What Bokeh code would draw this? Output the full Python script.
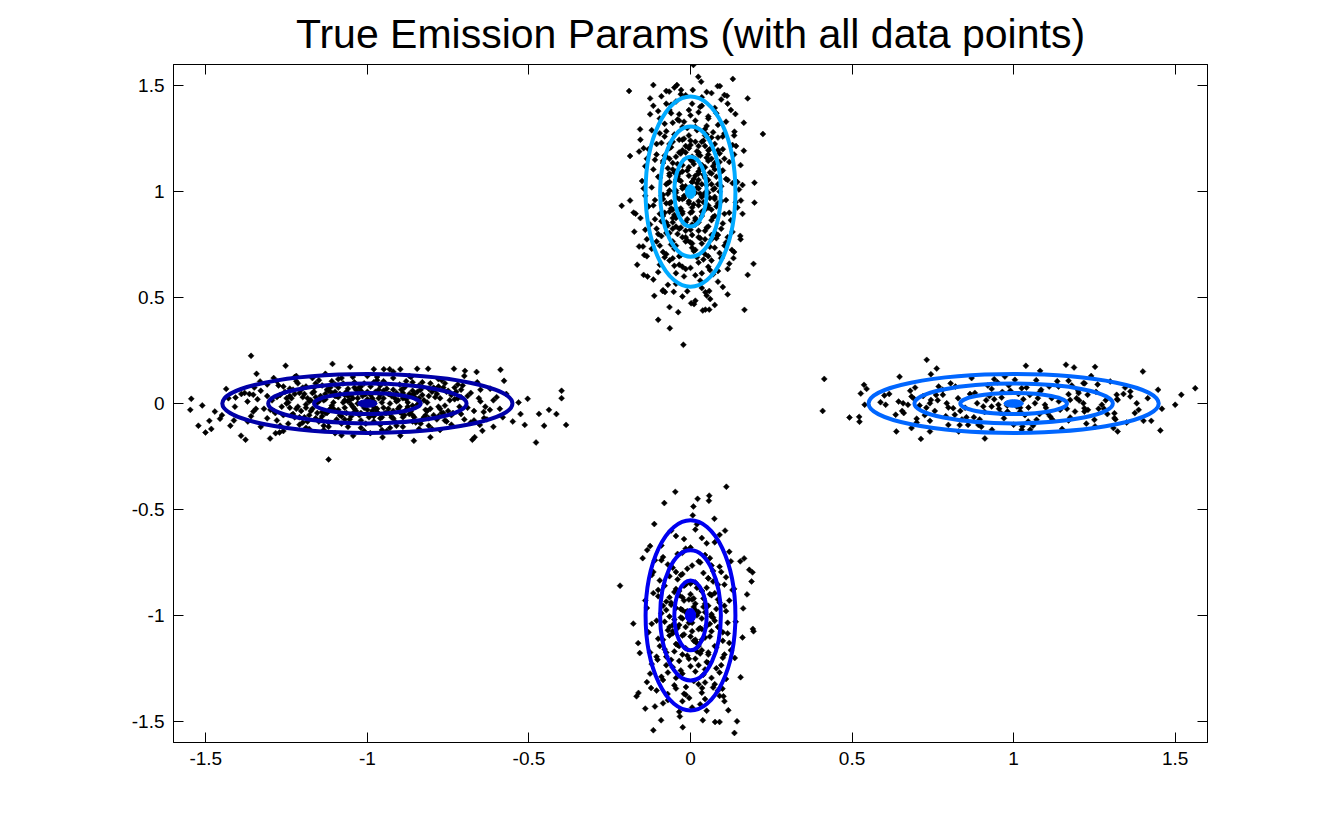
import math
from bokeh.plotting import figure
from bokeh.models import LinearAxis, FixedTicker, Title, ColumnDataSource
from bokeh.embed import file_html
from bokeh.resources import INLINE

title_text = "True Emission Params (with all data points)"
tick_values = [-1.5, -1.0, -0.5, 0.0, 0.5, 1.0, 1.5]
tick_labels = ["-1.5", "-1", "-0.5", "0", "0.5", "1", "1.5"]

# emission means and colours of the four states
state_cx = [-1.0, 0.0, 1.0, 0.0]
state_cy = [0.0, -1.0, 0.0, 1.0]
state_colors = ["#0000A8", "#0000F0", "#0066FF", "#00AAFF"]
state_horizontal = [True, False, True, False]
# contour half-axes (long, short) in data units
contour_long = [0.165, 0.307, 0.449]
contour_short = [0.050, 0.094, 0.139]
center_long = [0.030, 0.033]
center_short = [0.018, 0.016]

pts_west = [
    (-1.36, 0.225), (-1.253, 0.178), (-1.108, 0.187), (-1.053, 0.173), (-1.343, 0.14),
    (-1.545, 0.022), (-1.548, -0.03), (-1.511, -0.009), (-1.523, -0.105), (-1.501, -0.137),
    (-1.483, -0.12), (-1.489, -0.082), (-1.472, -0.038), (-1.456, -0.072), (-1.424, -0.105),
    (-1.391, -0.152), (-1.377, -0.171), (-1.301, -0.165), (-1.12, -0.264), (-0.478, -0.184),
    (-0.385, -0.101), (-0.399, 0.06), (-0.399, 0.025), (-0.438, -0.03), (-0.469, -0.049),
    (-0.415, -0.05), (-0.453, -0.105), (-0.504, 0.022), (-0.532, 0.005), (-0.526, -0.05),
    (-0.513, -0.101), (-0.588, 0.159), (-0.577, 0.107), (-0.662, 0.149), (-0.698, 0.154),
    (-0.732, 0.164), (-0.812, 0.164), (-0.846, 0.164), (-0.898, 0.162), (-0.931, 0.162),
    (-0.949, 0.162), (-0.98, 0.162), (-0.675, -0.171), (-0.668, -0.159), (-0.805, -0.159),
    (-0.856, -0.176), (-0.898, -0.152), (-0.953, -0.159), (-0.991, -0.14), (-1.044, -0.152),
    (-1.272, -0.137), (-1.284, -0.14), (-0.581, -0.065), (-0.621, -0.03), (-0.639, -0.069),
    (-0.644, -0.129), (-0.652, -0.101), (-1.413, -0.08), (-1.437, 0.069), (-1.408, 0.028),
    (-1.371, 0.009), (-1.353, 0.041), (-1.332, 0.104), (-1.353, -0.038),
    (-1.38, 0.05), (-1.36, -0.06), (-1.34, 0.02), (-1.33, -0.11), (-1.31, 0.09), (-1.30, -0.03),
    (-1.29, 0.12), (-1.28, -0.08), (-1.27, 0.04), (-1.26, -0.13), (-1.25, 0.00), (-1.24, 0.07),
    (-1.23, -0.05), (-1.22, 0.13), (-1.21, -0.10), (-1.20, 0.03), (-1.19, -0.02), (-1.19, 0.08),
    (-1.18, -0.12), (-1.17, 0.05), (-1.16, -0.07), (-1.15, 0.11), (-1.15, 0.01), (-1.14, -0.04),
    (-1.13, 0.14), (-1.12, -0.09), (-1.12, 0.06), (-1.11, -0.01), (-1.10, 0.09), (-1.10, -0.14),
    (-1.09, 0.03), (-1.08, -0.06), (-1.08, 0.12), (-1.07, -0.02), (-1.06, 0.07), (-1.06, -0.11),
    (-1.05, 0.04), (-1.04, -0.04), (-1.04, 0.10), (-1.03, 0.00), (-1.02, -0.08), (-1.02, 0.06),
    (-1.01, -0.13), (-1.00, 0.02), (-1.00, -0.03), (-1.00, 0.13), (-0.99, 0.08), (-0.98, -0.06),
    (-0.98, 0.01), (-0.97, 0.11), (-0.96, -0.10), (-0.96, 0.04), (-0.95, -0.02), (-0.94, 0.07),
    (-0.94, -0.13), (-0.93, 0.00), (-0.92, 0.12), (-0.92, -0.07), (-0.91, 0.05), (-0.90, -0.04),
    (-0.90, 0.09), (-0.89, -0.11), (-0.88, 0.02), (-0.87, -0.05), (-0.87, 0.13), (-0.86, 0.06),
    (-0.85, -0.09), (-0.84, 0.00), (-0.83, 0.10), (-0.82, -0.03), (-0.81, 0.07), (-0.80, -0.12),
    (-0.79, 0.03), (-0.78, -0.06), (-0.77, 0.11), (-0.76, -0.01), (-0.75, 0.06), (-0.74, -0.10),
    (-0.73, 0.02), (-0.72, 0.09), (-0.71, -0.05), (-0.70, 0.13), (-0.69, -0.02), (-0.68, 0.05),
    (-0.67, -0.08), (-0.66, 0.10), (-0.65, 0.01), (-0.64, -0.04), (-0.62, 0.07), (-0.61, -0.11),
    (-0.60, 0.03), (-1.16, 0.03), (-1.14, -0.06), (-1.13, 0.02), (-1.11, 0.05), (-1.09, -0.03),
    (-1.07, 0.04), (-1.05, -0.06), (-1.03, 0.05), (-1.01, -0.02), (-0.99, 0.04), (-0.97, -0.04),
    (-0.95, 0.06), (-0.93, -0.05), (-0.91, 0.01), (-0.89, 0.05), (-0.88, -0.03), (-0.86, -0.01),
    (-1.18, 0.01), (-1.21, 0.05), (-1.24, -0.02), (-0.83, 0.04), (-0.81, -0.07), (-0.78, 0.08),
    (-1.26, 0.08), (-1.31, -0.07), (-0.74, 0.04), (-0.71, 0.03), (-1.06, 0.01), (-0.96, -0.07),
    (-1.02, 0.08), (-0.98, 0.10), (-1.12, -0.11), (-0.84, -0.12), (-1.28, 0.03), (-1.33, 0.06),
    (-0.76, -0.08), (-0.68, -0.09), (-1.20, -0.09), (-1.17, 0.12), (-0.92, 0.15), (-1.08, -0.15),
    (-0.86, 0.10),
]
pts_west_core = [
    (-1.295, 0.015), (-1.285, -0.045), (-1.275, 0.085), (-1.265, -0.015), (-1.255, 0.055),
    (-1.245, -0.095), (-1.235, 0.025), (-1.225, -0.065), (-1.215, 0.095), (-1.205, -0.035),
    (-1.195, 0.045), (-1.185, -0.085), (-1.175, 0.015), (-1.165, 0.075), (-1.155, -0.045),
    (-1.145, 0.035), (-1.135, -0.105), (-1.125, 0.065), (-1.115, -0.025), (-1.105, 0.005),
    (-1.095, -0.075), (-1.085, 0.045), (-1.075, 0.095), (-1.065, -0.045), (-1.055, 0.015),
    (-1.045, -0.015), (-1.035, 0.065), (-1.025, -0.055), (-1.015, 0.035), (-1.005, -0.095),
    (-0.995, 0.005), (-0.985, -0.035), (-0.975, 0.055), (-0.965, 0.025), (-0.955, -0.065),
    (-0.945, 0.095), (-0.935, -0.025), (-0.925, 0.035), (-0.915, -0.085), (-0.905, 0.015),
    (-0.895, -0.045), (-0.885, 0.075), (-0.875, -0.015), (-0.865, 0.035), (-0.855, -0.065),
    (-0.845, 0.055), (-0.835, -0.095), (-0.825, 0.015), (-0.815, -0.035), (-0.805, 0.095),
    (-0.795, -0.055), (-0.785, 0.045), (-0.775, -0.025), (-0.765, 0.075), (-0.755, -0.085),
    (-0.745, 0.015), (-0.735, -0.045), (-0.725, 0.055), (-0.715, -0.015), (-0.705, 0.085),
    (-1.31, 0.035), (-1.32, -0.025), (-1.35, 0.075), (-1.37, -0.085), (-1.39, 0.045),
    (-1.41, -0.015), (-1.43, 0.025), (-1.45, -0.055), (-0.69, 0.035), (-0.67, -0.035),
    (-0.65, 0.065), (-0.63, -0.075), (-0.61, 0.015), (-0.59, -0.025), (-0.57, 0.045),
    (-0.55, -0.085), (-1.07, 0.015), (-1.04, -0.025), (-1.01, 0.045), (-0.98, -0.015),
    (-0.95, 0.025), (-0.92, -0.035), (-1.10, 0.035), (-1.13, -0.045), (-0.89, 0.025),
    (-0.86, -0.055), (-1.02, -0.115), (-0.97, 0.125), (-1.09, 0.115), (-0.93, -0.115),
    (-1.16, 0.095), (-0.84, 0.085), (-1.19, -0.115), (-0.81, -0.105), (-1.22, 0.105),
    (-0.78, 0.115),
    (-1.28, 0.105), (-1.26, -0.055), (-1.24, 0.035), (-1.22, -0.025), (-1.20, 0.075),
    (-1.18, -0.055), (-1.16, 0.005), (-1.14, 0.085), (-1.12, -0.035), (-1.10, 0.055),
    (-1.08, -0.095), (-1.06, 0.035), (-1.04, 0.075), (-1.02, -0.045), (-1.00, 0.055),
    (-0.98, -0.085), (-0.96, 0.085), (-0.94, -0.045), (-0.92, 0.065), (-0.90, -0.015),
    (-0.88, 0.105), (-0.86, -0.085), (-0.84, 0.025), (-0.82, -0.055), (-0.80, 0.055),
    (-0.78, -0.015), (-0.76, 0.095), (-0.74, -0.055), (-0.72, 0.025), (-0.70, -0.075),
    (-1.27, -0.105), (-1.23, 0.065), (-1.19, -0.005), (-1.15, -0.085), (-1.11, 0.105),
    (-1.07, -0.075), (-1.03, 0.025), (-0.99, -0.055), (-0.95, 0.105), (-0.91, -0.105),
    (-0.87, 0.045), (-0.83, -0.075), (-0.79, 0.065), (-0.75, -0.035), (-0.71, 0.065),
    (-1.17, -0.025), (-1.13, 0.045), (-1.09, 0.075), (-1.05, -0.005), (-1.01, 0.095),
    (-0.97, -0.025), (-0.93, 0.045), (-0.89, -0.065), (-0.85, 0.025), (-0.81, 0.035),
    (-1.21, -0.065), (-1.25, 0.025), (-1.29, -0.035), (-0.77, -0.045), (-0.73, 0.075),
    (-1.045, 0.125), (-0.955, -0.125), (-1.135, -0.125), (-0.865, 0.125), (-1.225, 0.125),
    (-0.775, -0.125), (-1.345, -0.025), (-0.655, 0.025), (-1.365, 0.045), (-0.635, -0.015),
    (-1.245, 0.005), (-1.235, -0.055), (-1.225, 0.045), (-1.215, -0.015), (-1.205, 0.065),
    (-1.195, -0.065), (-1.185, 0.025), (-1.175, -0.035), (-1.165, 0.055), (-1.155, 0.005),
    (-1.145, -0.075), (-1.135, 0.015), (-1.125, -0.045), (-1.115, 0.075), (-1.105, -0.025),
    (-1.095, 0.035), (-1.085, -0.055), (-1.075, 0.005), (-1.065, 0.055), (-1.055, -0.075),
    (-1.045, 0.025), (-1.035, -0.035), (-1.025, 0.075), (-1.015, -0.005), (-1.005, 0.045),
    (-0.995, -0.065), (-0.985, 0.025), (-0.975, -0.025), (-0.965, 0.065), (-0.955, 0.005),
    (-0.945, -0.045), (-0.935, 0.045), (-0.925, -0.065), (-0.915, 0.025), (-0.905, -0.025),
    (-0.895, 0.065), (-0.885, -0.055), (-0.875, 0.005), (-0.865, -0.035), (-0.855, 0.045),
    (-0.845, -0.005), (-0.835, 0.065), (-0.825, -0.065), (-0.815, 0.005), (-0.805, -0.025),
    (-0.795, 0.075), (-0.785, -0.075), (-0.775, 0.025), (-0.765, -0.045), (-0.755, 0.055),
]

pts_east = [
    (0.414, 0.116), (0.409, -0.035), (0.492, -0.066), (0.522, -0.063), (0.523, -0.086),
    (0.527, 0.047), (0.537, 0.088), (0.545, 0.069), (0.539, -0.006), (0.588, 0.006),
    (0.604, -0.006), (0.60, 0.038), (0.635, -0.053), (0.647, 0.126), (0.731, 0.206),
    (0.744, 0.138), (0.762, 0.165), (0.713, -0.167), (0.741, -0.132), (0.741, -0.082),
    (0.70, -0.072), (0.644, 0.009), (0.658, 0.001), (0.673, -0.006), (0.684, 0.033),
    (0.692, 0.022), (0.709, -0.009), (0.756, -0.035), (0.768, 0.08), (0.781, 0.041),
    (0.793, 0.001), (0.798, -0.019), (0.813, -0.022), (0.828, 0.025), (0.818, -0.053),
    (0.833, -0.102), (0.854, -0.065), (0.877, -0.065), (0.887, 0.001), (0.906, -0.014),
    (0.932, 0.069), (0.933, -0.124), (0.953, -0.006), (0.963, 0.028), (0.973, 0.127),
    (0.981, -0.038), (1.004, 0.112), (1.02, -0.038), (1.025, 0.072), (1.027, -0.108),
    (1.038, 0.178), (1.046, -0.019), (1.051, -0.124), (1.066, 0.001), (1.071, -0.077),
    (1.082, 0.154), (1.082, 0.057), (1.097, -0.006), (1.113, -0.061), (1.118, 0.025),
    (1.139, 0.08), (1.144, -0.03), (1.162, 0.183), (1.17, 0.107), (1.17, 0.044),
    (1.175, 0.017), (1.175, -0.066), (1.187, 0.17), (1.19, -0.038), (1.201, 0.049),
    (1.203, 0.014), (1.216, 0.096), (1.216, 0.001), (1.219, -0.022), (1.219, -0.038),
    (1.229, 0.041), (1.252, 0.173), (1.25, -0.077), (1.263, -0.025), (1.273, -0.006),
    (1.299, 0.104), (1.309, -0.116), (1.322, -0.132), (1.312, -0.046), (1.312, -0.069),
    (1.319, 0.041), (1.322, 0.017), (1.361, 0.057), (1.361, 0.033), (1.381, 0.001),
    (1.387, -0.03), (1.40, 0.151), (1.402, -0.082), (1.426, -0.082), (1.447, 0.065),
    (1.454, -0.127), (1.459, -0.025), (1.50, -0.006), (1.519, 0.041), (1.562, 0.072),
    (0.798, -0.101), (0.741, 0.001), (0.744, 0.017), (0.932, -0.014), (1.01, -0.014),
    (0.891, -0.101), (0.859, -0.101), (0.637, -0.132), (0.684, -0.116), (0.83, -0.132),
    (0.911, -0.165), (1.025, -0.124), (1.252, -0.108),
    (0.88, 0.05), (0.91, -0.04), (0.94, 0.02), (0.97, -0.07), (0.99, 0.06), (1.02, -0.02),
    (1.05, 0.04), (1.08, -0.05), (1.11, 0.08), (1.14, 0.01), (1.17, -0.08), (1.20, 0.06),
    (1.23, -0.03), (0.85, -0.02), (0.82, 0.08), (0.79, -0.06), (0.76, 0.04), (0.73, -0.02),
    (1.26, 0.09), (1.29, -0.05), (1.32, 0.02), (0.95, 0.10), (1.00, -0.10), (1.07, 0.11),
    (0.90, -0.11), (1.15, -0.12), (1.03, 0.02), (0.98, -0.01), (1.10, -0.02), (0.87, 0.12),
    (1.35, -0.09), (0.68, 0.06), (0.70, -0.09), (1.24, 0.13),
]
pts_east_core = [
    (0.615, 0.045), (0.655, -0.035), (0.695, 0.075), (0.725, -0.055), (0.765, 0.015),
    (0.805, 0.095), (0.835, -0.035), (0.865, 0.045), (0.895, -0.075), (0.925, 0.035),
    (0.955, -0.025), (0.985, 0.085), (1.015, 0.045), (1.045, -0.085), (1.075, 0.025),
    (1.105, -0.045), (1.135, 0.105), (1.165, -0.025), (1.195, 0.025), (1.225, -0.095),
    (1.255, 0.055), (1.285, 0.015), (1.315, -0.075), (1.345, 0.075), (1.375, -0.045),
    (1.415, 0.025), (0.965, 0.055), (1.035, -0.055), (0.915, 0.015), (1.085, 0.065),
    (0.78, 0.065), (0.84, -0.075), (0.92, 0.085), (0.96, -0.045), (1.04, 0.075),
    (1.12, -0.075), (1.18, 0.085), (1.28, -0.025), (1.34, 0.045), (0.72, 0.035),
    (0.66, -0.045), (1.06, -0.105), (0.94, 0.115), (1.22, 0.095),
]

pts_north = [
    (0.009, 1.598), (0.024, 1.542), (0.033, 1.519), (0.131, 1.532), (-0.19, 1.475),
    (-0.115, 1.503), (-0.05, 1.491), (-0.042, 1.503), (-0.066, 1.472), (-0.029, 1.48),
    (0.007, 1.48), (0.084, 1.498), (0.091, 1.498), (0.105, 1.456), (0.113, 1.452),
    (0.177, 1.44), (-0.125, 1.44), (0.224, 1.272), (-0.156, 1.294), (-0.187, 1.168),
    (-0.159, 1.189), (-0.213, 0.933), (-0.187, 0.958), (-0.176, 0.901), (-0.17, 0.896),
    (-0.174, 0.811), (-0.159, 0.741), (-0.147, 0.741), (-0.143, 0.701), (-0.145, 0.607),
    (-0.133, 0.599), (-0.112, 0.508), (-0.10, 0.395), (-0.064, 0.355), (-0.022, 0.277),
    (-0.038, 0.431), (-0.086, 0.531), (-0.079, 0.526), (-0.052, 0.527), (0.002, 0.473),
    (0.011, 0.469), (0.038, 0.439), (0.046, 0.443), (0.058, 0.443), (0.061, 0.493),
    (0.046, 0.525), (0.058, 0.531), (0.167, 0.442), (0.177, 0.607), (0.195, 0.659),
    (0.154, 0.791), (0.161, 0.895), (0.198, 0.948), (0.198, 1.042), (0.161, 1.031),
    (0.156, 0.958), (0.165, 1.193), (0.141, 1.215), (0.139, 1.366), (0.136, 1.283),
    (0.097, 0.689), (0.133, 0.686), (0.128, 0.725),
    (-0.06, 1.41), (0.03, 1.40), (-0.10, 1.38), (0.08, 1.37), (0.00, 1.36), (-0.04, 1.34),
    (0.11, 1.33), (-0.08, 1.32), (0.05, 1.31), (-0.01, 1.30), (-0.12, 1.29), (0.02, 1.29),
    (0.07, 1.28), (-0.05, 1.27), (0.10, 1.26), (-0.02, 1.25), (0.04, 1.24), (-0.09, 1.23),
    (0.13, 1.22), (0.00, 1.22), (-0.06, 1.21), (0.06, 1.20), (-0.13, 1.20), (0.02, 1.19),
    (-0.03, 1.18), (0.09, 1.18), (-0.08, 1.17), (0.05, 1.16), (-0.11, 1.15), (0.00, 1.15),
    (0.12, 1.14), (-0.04, 1.13), (0.07, 1.12), (-0.07, 1.11), (0.03, 1.11), (-0.01, 1.10),
    (0.10, 1.10), (-0.14, 1.12), (-0.05, 1.09), (0.04, 1.08), (-0.10, 1.07), (0.08, 1.07),
    (0.01, 1.06), (-0.03, 1.05), (0.13, 1.04), (-0.07, 1.04), (0.05, 1.03), (-0.12, 1.02),
    (0.02, 1.02), (-0.01, 1.01), (0.09, 1.00), (-0.05, 1.00), (0.15, 1.01), (-0.15, 1.05),
    (0.03, 0.99), (-0.09, 0.98), (0.06, 0.97), (-0.02, 0.97), (0.11, 0.96), (-0.06, 0.95),
    (0.01, 0.94), (-0.13, 0.93), (0.08, 0.93), (-0.03, 0.92), (0.04, 0.91), (-0.08, 0.90),
    (0.12, 0.90), (0.00, 0.90), (-0.05, 0.89), (0.07, 0.88), (-0.11, 0.87), (0.02, 0.86),
    (0.10, 0.85), (-0.02, 0.85), (-0.07, 0.84), (0.05, 0.83), (-0.14, 0.82), (0.00, 0.82),
    (0.13, 0.81), (-0.04, 0.80), (0.08, 0.80), (-0.09, 0.79), (0.03, 0.78), (-0.01, 0.77),
    (0.11, 0.76), (-0.06, 0.75), (0.06, 0.74), (-0.12, 0.73), (0.01, 0.72), (0.09, 0.71),
    (-0.03, 0.70), (-0.08, 0.69), (0.04, 0.68), (0.12, 0.66), (-0.05, 0.65), (0.00, 0.64),
    (-0.10, 0.62), (0.07, 0.61), (-0.02, 0.60), (0.03, 0.58), (-0.07, 0.56), (0.10, 0.55),
    (-0.01, 0.53), (0.05, 0.51), (-0.03, 1.46), (0.05, 1.47), (-0.09, 1.45),
    (0.02, 1.04), (-0.02, 0.98), (0.04, 0.95), (-0.04, 1.07), (0.06, 1.09), (-0.06, 0.92),
    (0.01, 1.13), (-0.01, 0.87), (0.03, 1.17), (-0.03, 0.83), (0.07, 1.01), (-0.07, 0.99),
    (0.09, 1.14), (-0.09, 0.86), (0.00, 1.24), (0.00, 0.76), (0.05, 1.27), (-0.05, 0.73),
    (0.11, 1.06), (-0.11, 0.96), (0.08, 0.78), (-0.08, 1.26), (0.14, 0.95), (-0.14, 0.98),
    (0.02, 0.69), (-0.02, 1.33), (0.06, 0.63), (-0.06, 1.37), (0.10, 1.20), (-0.10, 0.80),
]
pts_north_core = [
    (0.015, 0.605), (-0.045, 0.615), (0.085, 0.625), (-0.015, 0.635), (0.055, 0.645),
    (-0.095, 0.655), (0.025, 0.665), (-0.065, 0.675), (0.095, 0.685), (-0.035, 0.695),
    (0.045, 0.705), (-0.085, 0.715), (0.015, 0.725), (0.075, 0.735), (-0.045, 0.745),
    (0.035, 0.755), (-0.105, 0.765), (0.065, 0.775), (-0.025, 0.785), (0.005, 0.795),
    (-0.075, 0.805), (0.045, 0.815), (0.095, 0.825), (-0.045, 0.835), (0.015, 0.845),
    (-0.015, 0.855), (0.065, 0.865), (-0.055, 0.875), (0.035, 0.885), (-0.095, 0.895),
    (0.005, 0.905), (-0.035, 0.915), (0.055, 0.925), (0.025, 0.935), (-0.065, 0.945),
    (0.095, 0.955), (-0.025, 0.965), (0.035, 0.975), (-0.085, 0.985), (0.015, 0.995),
    (-0.045, 1.005), (0.075, 1.015), (-0.015, 1.025), (0.035, 1.035), (-0.065, 1.045),
    (0.055, 1.055), (-0.095, 1.065), (0.015, 1.075), (-0.035, 1.085), (0.095, 1.095),
    (-0.055, 1.105), (0.045, 1.115), (-0.025, 1.125), (0.075, 1.135), (-0.085, 1.145),
    (0.015, 1.155), (-0.045, 1.165), (0.055, 1.175), (-0.015, 1.185), (0.085, 1.195),
    (-0.065, 1.205), (0.025, 1.215), (-0.105, 1.225), (0.035, 1.235), (-0.035, 1.245),
    (0.065, 1.255), (-0.005, 1.265), (0.105, 1.275), (-0.075, 1.285), (0.045, 1.295),
    (-0.025, 1.305), (0.085, 1.315), (-0.055, 1.325), (0.015, 1.335), (-0.095, 1.345),
    (0.055, 1.355), (-0.035, 1.365), (0.025, 1.375), (-0.065, 1.385), (0.075, 1.395),
    (0.005, 1.415), (-0.045, 1.425), (0.095, 1.435), (-0.115, 1.405), (0.035, 1.445),
    (-0.015, 1.455), (0.065, 1.465), (-0.075, 1.475), (0.115, 1.415), (0.125, 1.385),
    (-0.125, 1.365), (0.135, 1.175), (-0.135, 1.155), (0.125, 0.865), (-0.125, 0.845),
    (0.135, 0.715), (-0.135, 0.695), (0.115, 0.635), (-0.115, 0.585), (0.085, 0.575),
    (-0.045, 0.565), (0.035, 0.545), (-0.085, 0.535), (0.115, 0.515), (-0.025, 0.505),
    (0.015, 0.485), (0.075, 0.465), (-0.065, 0.455), (-0.155, 0.875), (0.155, 1.125),
    (-0.155, 1.245), (0.155, 0.775), (-0.165, 0.655), (0.165, 1.325), (0.045, 0.985),
    (-0.045, 0.995), (0.005, 1.045), (-0.005, 0.955), (0.025, 1.095), (-0.025, 0.905),
    (0.055, 1.145), (-0.055, 0.855), (0.065, 0.915), (-0.065, 1.085), (0.085, 1.035),
    (-0.085, 0.965),
    (0.035, 0.615), (-0.025, 0.645), (0.065, 0.675), (-0.075, 0.705), (0.005, 0.735),
    (-0.015, 0.765), (0.085, 0.795), (-0.055, 0.825), (0.025, 0.855), (-0.085, 0.885),
    (0.045, 0.915), (-0.005, 0.945), (0.075, 0.965), (-0.045, 0.975), (0.055, 0.995),
    (-0.025, 1.015), (0.095, 1.025), (-0.075, 1.035), (0.025, 1.055), (-0.005, 1.075),
    (0.065, 1.085), (-0.045, 1.095), (0.035, 1.125), (-0.085, 1.135), (0.005, 1.165),
    (-0.025, 1.195), (0.075, 1.225), (-0.055, 1.235), (0.045, 1.265), (-0.095, 1.275),
    (0.015, 1.305), (-0.035, 1.335), (0.055, 1.345), (-0.005, 1.385), (0.035, 1.405),
    (-0.075, 1.415), (0.085, 1.255), (-0.105, 1.175), (0.105, 1.155), (-0.115, 1.105),
    (0.115, 1.055), (-0.115, 0.935), (0.105, 0.895), (-0.105, 0.825), (0.115, 0.785),
    (-0.095, 0.745), (0.105, 0.745), (-0.055, 0.685), (0.055, 0.695), (-0.035, 0.655),
    (0.025, 0.785), (-0.015, 0.815), (0.015, 0.875), (-0.065, 0.905), (0.085, 0.945),
    (-0.035, 1.055), (0.045, 1.075), (-0.065, 1.155), (0.025, 1.185), (-0.015, 1.215),
    (0.145, 1.045), (-0.145, 1.015), (0.145, 0.925), (-0.145, 1.205), (0.135, 1.265),
    (-0.135, 0.775),
    (0.005, 0.755), (-0.055, 0.765), (0.045, 0.775), (-0.015, 0.785), (0.065, 0.795),
    (-0.065, 0.805), (0.025, 0.815), (-0.035, 0.825), (0.055, 0.835), (0.005, 0.845),
    (-0.075, 0.855), (0.015, 0.865), (-0.045, 0.875), (0.075, 0.885), (-0.025, 0.895),
    (0.035, 0.905), (-0.055, 0.915), (0.005, 0.925), (0.055, 0.935), (-0.075, 0.945),
    (0.025, 0.955), (-0.035, 0.965), (0.075, 0.975), (-0.005, 0.985), (0.045, 0.995),
    (-0.065, 1.005), (0.025, 1.015), (-0.025, 1.025), (0.065, 1.035), (0.005, 1.045),
    (-0.045, 1.055), (0.045, 1.065), (-0.065, 1.075), (0.025, 1.085), (-0.025, 1.095),
    (0.075, 1.105), (-0.005, 1.115), (0.035, 1.125), (-0.055, 1.135), (0.005, 1.145),
    (0.065, 1.155), (-0.075, 1.165), (0.025, 1.175), (-0.035, 1.185), (0.055, 1.195),
    (-0.005, 1.205), (0.045, 1.215), (-0.065, 1.225), (0.015, 1.235), (-0.025, 1.245),
]

pts_south = [
    (0.111, -0.393), (-0.047, -0.417), (0.022, -0.45), (0.058, -0.435), (0.057, -0.459),
    (-0.081, -0.47), (0.009, -0.486), (0.007, -0.528), (0.074, -0.544), (-0.112, -0.569),
    (0.107, -0.60), (-0.218, -0.86), (-0.177, -1.039), (-0.162, -1.131), (-0.157, -1.178),
    (-0.148, -0.73), (-0.134, -0.692), (-0.125, -0.673), (0.182, -0.785), (0.192, -0.797),
    (0.189, -0.84), (0.175, -0.901), (0.163, -0.967), (0.154, -0.745), (0.166, -0.731),
    (0.193, -1.064), (0.195, -1.075), (0.161, -1.104), (0.137, -1.201), (0.155, -1.292),
    (0.099, -1.346), (0.102, -1.382), (0.117, -1.448), (0.144, -1.50), (0.136, -1.555),
    (0.076, -1.503), (0.09, -1.503), (0.038, -1.495), (-0.024, -1.528), (-0.033, -1.477),
    (-0.091, -1.495), (-0.115, -1.542), (-0.14, -1.44), (-0.167, -1.382), (-0.161, -1.366),
    (-0.071, -1.371), (-0.004, -1.39), (0.036, -1.343), (0.045, -1.317), (-0.014, -1.338),
    (-0.122, -1.343), (-0.102, -1.209),
    (0.02, -0.57), (-0.06, -0.60), (0.09, -0.62), (-0.02, -0.64), (0.05, -0.66),
    (-0.09, -0.67), (0.00, -0.68), (0.12, -0.70), (-0.04, -0.71), (0.06, -0.73), (-0.11, -0.74),
    (0.03, -0.75), (-0.07, -0.76), (0.09, -0.77), (-0.01, -0.78), (0.04, -0.80), (-0.12, -0.81),
    (0.11, -0.82), (-0.04, -0.83), (0.07, -0.84), (0.00, -0.85), (-0.08, -0.86), (0.02, -0.87),
    (0.13, -0.88), (-0.05, -0.89), (0.06, -0.90), (-0.10, -0.91), (0.01, -0.92), (-0.02, -0.93),
    (0.09, -0.94), (-0.06, -0.95), (0.04, -0.96), (-0.14, -0.93), (-0.03, -0.97), (0.11, -0.98),
    (-0.09, -0.99), (0.02, -1.00), (0.07, -1.01), (-0.05, -1.02), (0.00, -1.03), (-0.12, -1.04),
    (0.05, -1.05), (0.14, -1.03), (-0.01, -0.98), (0.03, -1.06), (-0.07, -1.07), (0.10, -1.08),
    (-0.02, -1.09), (0.06, -1.10), (-0.10, -1.11), (0.01, -1.12), (0.12, -1.13), (-0.04, -1.14),
    (0.08, -1.15), (-0.08, -1.16), (0.02, -1.17), (-0.01, -1.19), (0.10, -1.20), (-0.06, -1.21),
    (0.05, -1.22), (-0.12, -1.23), (0.00, -1.24), (0.08, -1.25), (-0.03, -1.26), (0.04, -1.28),
    (-0.09, -1.29), (0.11, -1.30), (0.01, -1.31), (-0.05, -1.33), (0.07, -1.34), (-0.02, -1.37),
    (0.09, -1.38), (-0.07, -1.40), (0.03, -1.42), (-0.11, -1.43), (0.05, -1.45),
    (0.01, -0.96), (-0.03, -1.01), (0.04, -0.92), (-0.04, -1.06), (0.06, -1.04), (-0.06, -0.94),
    (0.02, -1.13), (-0.02, -0.86), (0.08, -0.97), (-0.08, -1.03), (0.03, -1.18), (-0.03, -0.81),
    (0.05, -0.87), (-0.05, -1.17), (0.10, -1.12), (-0.10, -0.88), (0.00, -0.90), (0.00, -1.10),
    (0.07, -0.79), (-0.07, -1.27), (0.12, -0.93), (-0.13, -1.08), (0.09, -1.27), (-0.09, -0.74),
]
pts_south_core = [
    (0.015, -0.595), (-0.045, -0.625), (0.075, -0.655), (-0.015, -0.685), (0.045, -0.715),
    (-0.085, -0.725), (0.025, -0.745), (-0.055, -0.775), (0.095, -0.795), (-0.025, -0.805),
    (0.055, -0.825), (-0.095, -0.835), (0.015, -0.845), (0.085, -0.855), (-0.045, -0.875),
    (0.035, -0.885), (-0.115, -0.895), (0.065, -0.905), (-0.025, -0.915), (0.005, -0.925),
    (-0.075, -0.935), (0.045, -0.945), (0.105, -0.955), (-0.045, -0.965), (0.015, -0.975),
    (-0.015, -0.985), (0.065, -0.995), (-0.065, -1.005), (0.035, -1.015), (-0.105, -1.025),
    (0.005, -1.035), (-0.035, -1.045), (0.085, -1.055), (0.025, -1.065), (-0.055, -1.075),
    (0.115, -1.085), (-0.025, -1.095), (0.045, -1.105), (-0.085, -1.115), (0.015, -1.125),
    (-0.045, -1.135), (0.075, -1.145), (-0.015, -1.155), (0.035, -1.165), (-0.075, -1.175),
    (0.055, -1.185), (-0.105, -1.195), (0.015, -1.205), (-0.035, -1.215), (0.095, -1.235),
    (-0.055, -1.245), (0.045, -1.255), (-0.025, -1.275), (0.065, -1.295), (-0.085, -1.305),
    (0.025, -1.325), (-0.045, -1.345), (0.085, -1.355), (-0.015, -1.375), (0.045, -1.395),
    (-0.085, -1.415), (0.005, -1.435), (-0.035, -1.455), (0.125, -1.165), (-0.135, -0.965),
    (0.135, -0.875), (-0.125, -1.275), (0.125, -0.745), (-0.135, -1.315), (0.105, -1.405),
    (0.025, -0.985), (-0.025, -1.015), (0.055, -0.955), (-0.055, -1.045), (0.005, -1.075),
    (-0.005, -0.925), (0.035, -1.115), (-0.035, -0.885), (0.075, -1.025), (-0.075, -0.975),
    (0.035, -0.635), (-0.025, -0.705), (0.065, -0.765), (-0.065, -0.815), (0.025, -0.865),
    (-0.035, -0.905), (0.085, -0.925), (-0.085, -0.955), (0.045, -0.985), (-0.015, -1.055),
    (0.065, -1.075), (-0.065, -1.095), (0.025, -1.145), (-0.095, -1.145), (0.105, -1.185),
    (-0.025, -1.185), (0.055, -1.225), (-0.075, -1.235), (0.015, -1.265), (-0.045, -1.295),
    (0.075, -1.325), (-0.105, -1.355), (0.035, -1.365), (-0.025, -1.405), (0.115, -1.035),
    (-0.115, -0.795), (0.105, -0.855), (-0.125, -1.175),
    (0.005, -0.765), (-0.045, -0.795), (0.055, -0.825), (-0.015, -0.855), (0.035, -0.885),
    (-0.065, -0.915), (0.015, -0.945), (-0.025, -0.975), (0.065, -1.005), (-0.005, -1.035),
    (0.035, -1.065), (-0.055, -1.085), (0.015, -1.115), (-0.035, -1.145), (0.055, -1.175),
    (-0.005, -1.205), (0.025, -1.235), (-0.065, -1.055), (0.075, -0.895), (-0.075, -1.195),
]

FONT = "Liberation Sans"

p = figure(width=1330, height=831, x_range=(-1.6, 1.6), y_range=(-1.6, 1.6),
           output_backend="svg", toolbar_location=None,
           min_border_left=173, min_border_right=123, min_border_top=63, min_border_bottom=89)
p.title = Title(text=title_text, align="center", text_font=FONT, text_font_size="41px",
                text_font_style="normal", text_color="black", standoff=16)
p.background_fill_color = "white"
p.border_fill_color = "white"
p.outline_line_color = "black"
p.outline_line_width = 1
p.xgrid.visible = False
p.ygrid.visible = False

overrides = {v: s for v, s in zip(tick_values, tick_labels)}

def style_axis(ax, show_labels, standoff):
    ax.ticker = FixedTicker(ticks=tick_values)
    ax.major_label_overrides = overrides
    ax.major_tick_in = 10
    ax.major_tick_out = 0
    ax.minor_tick_in = 0
    ax.minor_tick_out = 0
    ax.axis_line_color = "black"
    ax.major_tick_line_color = "black"
    ax.major_label_text_font = FONT
    ax.major_label_text_color = "black"
    ax.major_label_standoff = standoff
    if show_labels:
        ax.major_label_text_font_size = "19px"
    else:
        ax.major_label_text_alpha = 0
        ax.major_label_text_font_size = "1px"
        ax.major_label_standoff = 0

style_axis(p.xaxis[0], True, 9)
style_axis(p.yaxis[0], True, 9)
top_ax = LinearAxis()
right_ax = LinearAxis()
style_axis(top_ax, False, 0)
style_axis(right_ax, False, 0)
p.add_layout(top_ax, "above")
p.add_layout(right_ax, "right")

# data points
all_pts = (pts_west + pts_west_core + pts_east + pts_east_core +
           pts_north + pts_north_core + pts_south + pts_south_core)
src = ColumnDataSource(dict(x=[q[0] for q in all_pts], y=[q[1] for q in all_pts]))
p.scatter("x", "y", source=src, marker="square", size=4.2, angle=math.pi / 4,
          fill_color="black", line_color="black", line_width=0.5)

# contour ellipses
ex, ey, ew, eh, ec = [], [], [], [], []
cx, cy, cw, ch, cc = [], [], [], [], []
for i in range(len(state_cx)):
    for lo, sh in zip(contour_long, contour_short):
        ex.append(state_cx[i]); ey.append(state_cy[i]); ec.append(state_colors[i])
        if state_horizontal[i]:
            ew.append(2 * lo); eh.append(2 * sh)
        else:
            ew.append(2 * sh); eh.append(2 * lo)
    cx.append(state_cx[i]); cy.append(state_cy[i]); cc.append(state_colors[i])
    if state_horizontal[i]:
        cw.append(2 * center_long[0]); ch.append(2 * center_short[0])
    else:
        cw.append(2 * center_short[1]); ch.append(2 * center_long[1])

esrc = ColumnDataSource(dict(x=ex, y=ey, w=ew, h=eh, c=ec))
p.ellipse("x", "y", width="w", height="h", source=esrc, fill_alpha=0,
          line_color="c", line_width=4)
csrc = ColumnDataSource(dict(x=cx, y=cy, w=cw, h=ch, c=cc))
p.ellipse("x", "y", width="w", height="h", source=csrc, fill_color="c",
          line_color="c", line_width=1)

open("out.html", "w").write(file_html(p, INLINE))
